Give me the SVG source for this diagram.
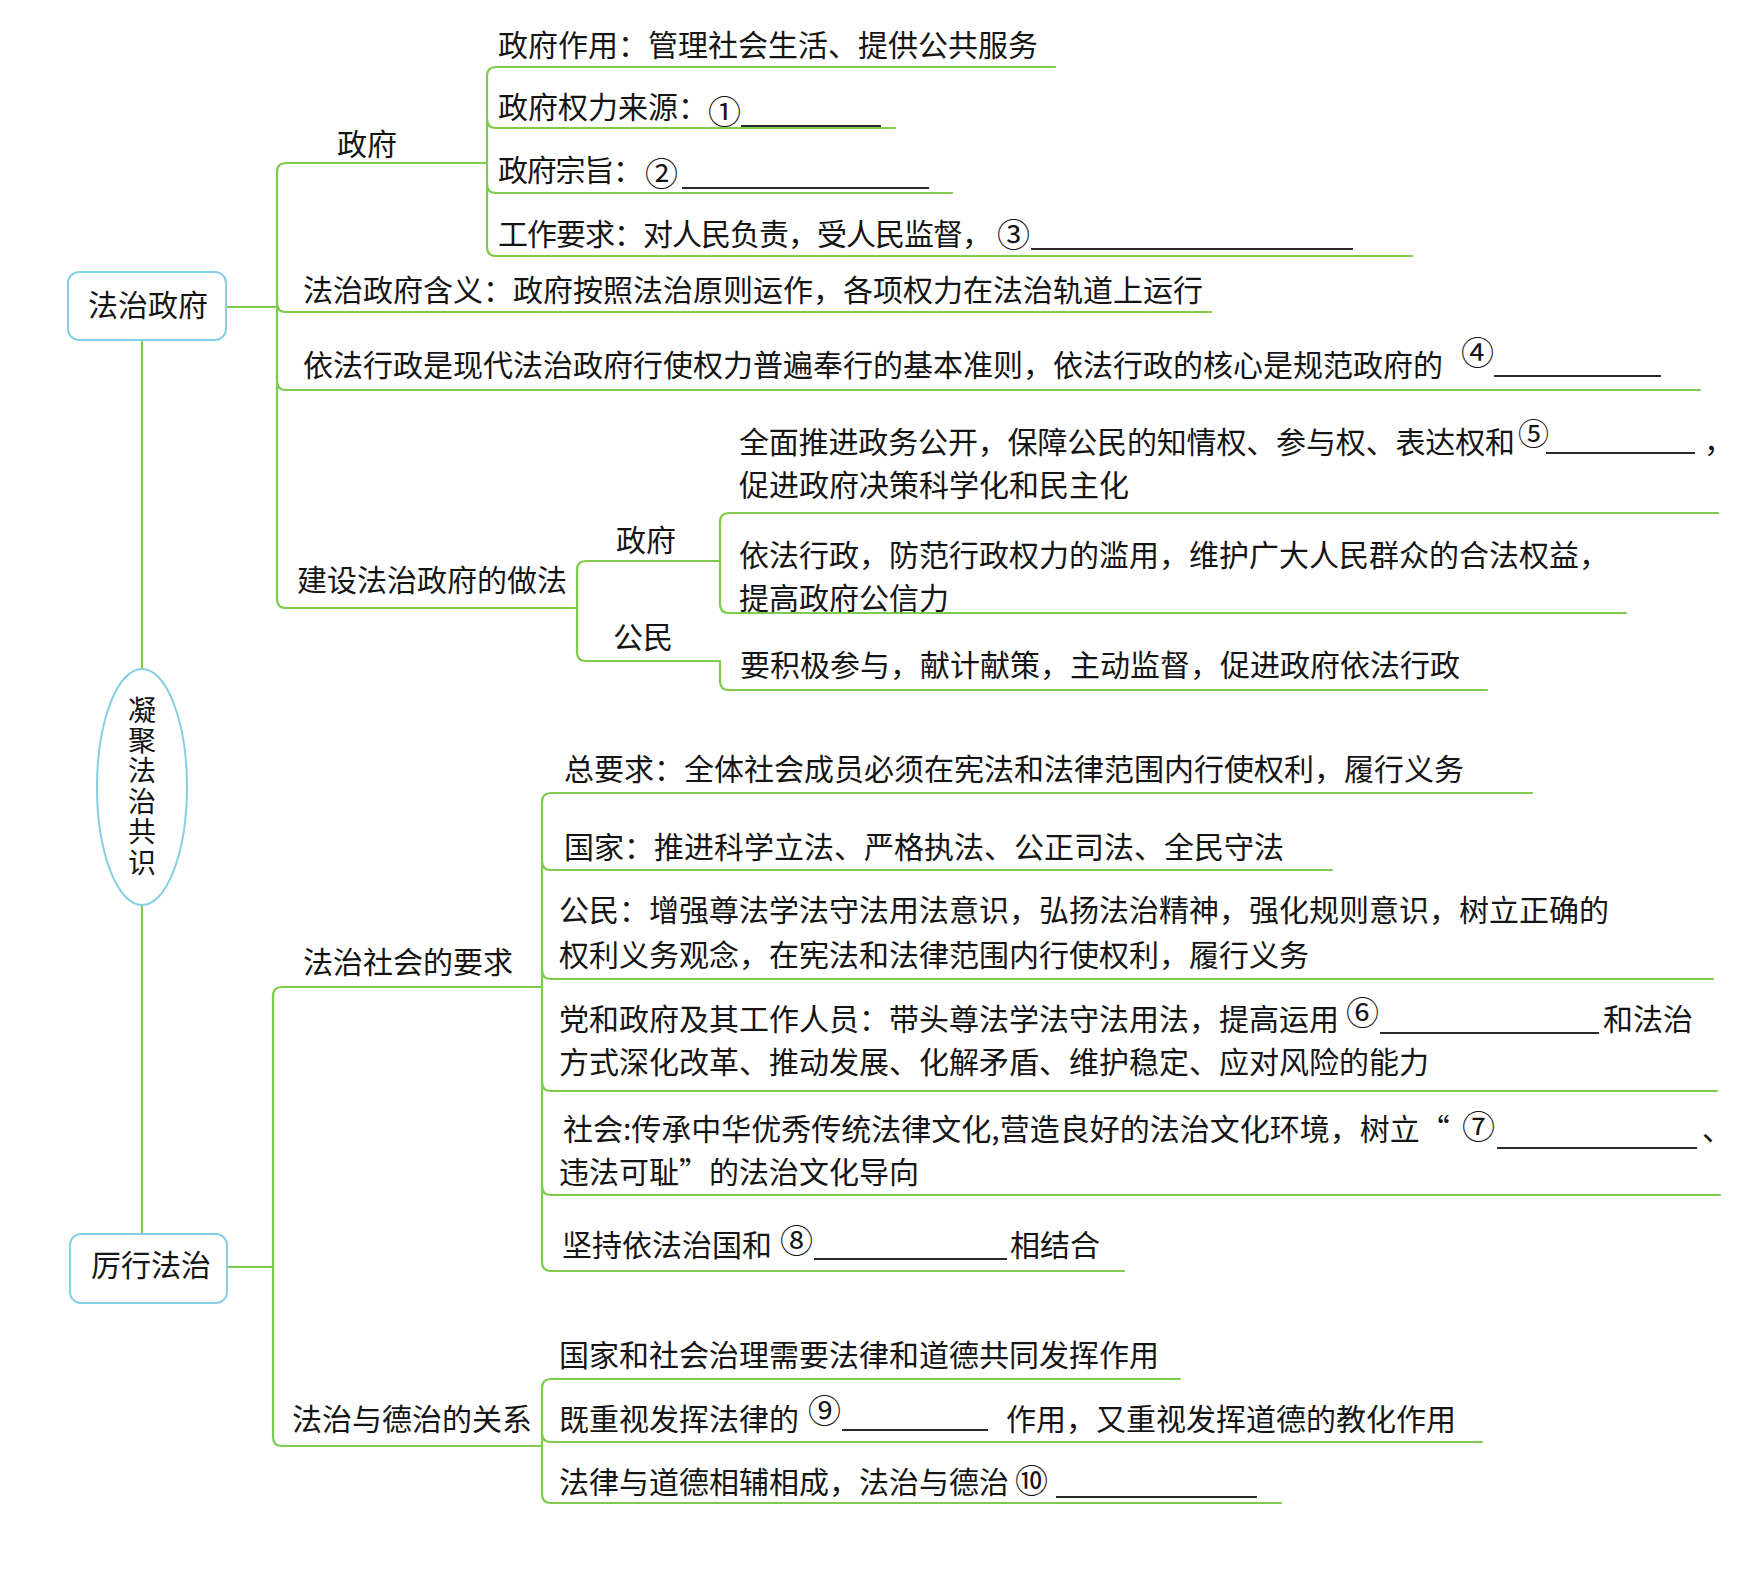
<svg xmlns="http://www.w3.org/2000/svg" width="1743" height="1590" viewBox="0 0 1743 1590">
<style>
  text { font-family: "Noto Sans CJK SC", "Noto Sans", sans-serif; font-size: 30px; fill: #151515; }
  .v { font-size: 28px; writing-mode: vertical-rl; letter-spacing: 2.4px; }
  .c { text-anchor: middle; }
  .n { font-size: 33px; }
  .ln { fill: none; stroke: #7dcc4e; stroke-width: 2.2; stroke-linecap: round; }
  .bl { stroke: #2a2a2a; stroke-width: 2; }
  .node { fill: #ffffff; stroke: #86d0e3; stroke-width: 2; }
</style>
<rect width="1743" height="1590" fill="#ffffff"/>

<g id="connectors">
  <path class="ln" d="M142 340 L142 669 M142 906 L142 1234"/>
  <!-- 法治政府 main trunk -->
  <path class="ln" d="M226 307 L277 307"/>
  <path class="ln" d="M277 172 Q277 163 286 163 L487 163 M277 172 L277 599"/>
  <path class="ln" d="M277 303 Q277 312 286 312 L1211 312"/>
  <path class="ln" d="M277 381 Q277 390 286 390 L1700 390"/>
  <path class="ln" d="M277 599 Q277 608 286 608 L577 608"/>
  <!-- 政府 sub trunk -->
  <path class="ln" d="M487 76 Q487 67 496 67 L1055 67 M487 76 L487 247"/>
  <path class="ln" d="M487 119 Q487 128 496 128 L895 128"/>
  <path class="ln" d="M487 184 Q487 193 496 193 L952 193"/>
  <path class="ln" d="M487 247 Q487 256 496 256 L1412 256"/>
  <!-- 建设法治政府的做法 sub trunk -->
  <path class="ln" d="M577 570 Q577 561 586 561 L720 561 M577 570 L577 652 Q577 661 586 661 L720 661"/>
  <path class="ln" d="M720 522 Q720 513 729 513 L1718 513 M720 522 L720 604 Q720 613 729 613 L1626 613"/>
  <path class="ln" d="M720 661 L720 681 Q720 690 729 690 L1487 690"/>
  <!-- 厉行法治 main trunk -->
  <path class="ln" d="M227 1267 L273 1267"/>
  <path class="ln" d="M273 996 Q273 987 282 987 L542 987 M273 996 L273 1437 Q273 1446 282 1446 L542 1446"/>
  <!-- 法治社会的要求 sub trunk -->
  <path class="ln" d="M542 802 Q542 793 551 793 L1532 793 M542 802 L542 1262"/>
  <path class="ln" d="M542 861 Q542 870 551 870 L1332 870"/>
  <path class="ln" d="M542 970 Q542 979 551 979 L1713 979"/>
  <path class="ln" d="M542 1082 Q542 1091 551 1091 L1717 1091"/>
  <path class="ln" d="M542 1186 Q542 1195 551 1195 L1720 1195"/>
  <path class="ln" d="M542 1262 Q542 1271 551 1271 L1124 1271"/>
  <!-- 法治与德治的关系 sub trunk -->
  <path class="ln" d="M542 1388 Q542 1379 551 1379 L1180 1379 M542 1388 L542 1494"/>
  <path class="ln" d="M542 1433 Q542 1442 551 1442 L1482 1442"/>
  <path class="ln" d="M542 1494 Q542 1503 551 1503 L1281 1503"/>
</g>

<g id="node-root">
  <ellipse class="node" cx="142" cy="787" rx="45" ry="118"/>
  <text class="v" x="142" y="696">凝聚法治共识</text>
</g>

<g id="node-fzzf">
  <rect class="node" x="68" y="272" width="158" height="68" rx="11"/>
  <text class="c" x="148" y="316">法治政府</text>
</g>

<g id="node-lxfz">
  <rect class="node" x="70" y="1234" width="157" height="69" rx="11"/>
  <text class="c" x="151" y="1276">厉行法治</text>
</g>

<g id="node-zf">
  <text x="337" y="155">政府</text>
</g>
<g id="node-zf-1"><text x="498" y="56">政府作用：管理社会生活、提供公共服务</text></g>
<g id="node-zf-2">
  <text x="498" y="118">政府权力来源：<tspan class="n" x="708" y="124">①</tspan></text>
  <line class="bl" x1="741" y1="126" x2="881" y2="126"/>
</g>
<g id="node-zf-3">
  <text x="498" y="181"><tspan textLength="145" lengthAdjust="spacing">政府宗旨：</tspan><tspan class="n" x="645" y="186">②</tspan></text>
  <line class="bl" x1="682" y1="188" x2="929" y2="188"/>
</g>
<g id="node-zf-4">
  <text x="498" y="245"><tspan textLength="494" lengthAdjust="spacing">工作要求：对人民负责，受人民监督，</tspan><tspan class="n" x="997" y="247">③</tspan></text>
  <line class="bl" x1="1031" y1="249" x2="1353" y2="249"/>
</g>
<g id="node-hanyi"><text x="303" y="301">法治政府含义：政府按照法治原则运作，各项权力在法治轨道上运行</text></g>
<g id="node-yfxz">
  <text x="303" y="376">依法行政是现代法治政府行使权力普遍奉行的基本准则，依法行政的核心是规范政府的<tspan class="n" x="1461" y="365">④</tspan></text>
  <line class="bl" x1="1494" y1="376" x2="1661" y2="376"/>
</g>
<g id="node-jianshe"><text x="297" y="591">建设法治政府的做法</text></g>
<g id="node-js-zf"><text x="616" y="551">政府</text></g>
<g id="node-js-gm"><text x="613" y="648">公民</text></g>
<g id="node-js-zf-1">
  <text x="739" y="453"><tspan textLength="776" lengthAdjust="spacing">全面推进政务公开，保障公民的知情权、参与权、表达权和</tspan><tspan x="1518" y="445" style="font-size:31px">⑤</tspan><tspan x="1704" y="452">，</tspan><tspan x="739" y="496">促进政府决策科学化和民主化</tspan></text>
  <line class="bl" x1="1546" y1="453" x2="1695" y2="453"/>
</g>
<g id="node-js-zf-2">
  <text x="739" y="566">依法行政，防范行政权力的滥用，维护广大人民群众的合法权益，<tspan x="739" y="609">提高政府公信力</tspan></text>
</g>
<g id="node-js-gm-1"><text x="740" y="676">要积极参与，献计献策，主动监督，促进政府依法行政</text></g>

<g id="node-fzsh"><text x="303" y="973">法治社会的要求</text></g>
<g id="node-sh-1"><text x="564" y="780">总要求：全体社会成员必须在宪法和法律范围内行使权利，履行义务</text></g>
<g id="node-sh-2"><text x="564" y="858">国家：推进科学立法、严格执法、公正司法、全民守法</text></g>
<g id="node-sh-3">
  <text x="559" y="921">公民：增强尊法学法守法用法意识，弘扬法治精神，强化规则意识，树立正确的<tspan x="559" y="966">权利义务观念，在宪法和法律范围内行使权利，履行义务</tspan></text>
</g>
<g id="node-sh-4">
  <text x="559" y="1030">党和政府及其工作人员：带头尊法学法守法用法，提高运用<tspan class="n" x="1346" y="1025">⑥</tspan><tspan x="1603" y="1030">和法治</tspan><tspan x="559" y="1073">方式深化改革、推动发展、化解矛盾、维护稳定、应对风险的能力</tspan></text>
  <line class="bl" x1="1380" y1="1033" x2="1599" y2="1033"/>
</g>
<g id="node-sh-5">
  <text x="563" y="1140">社会:传承中华优秀传统法律文化,营造良好的法治文化环境，树立“<tspan class="n" x="1462" y="1139">⑦</tspan><tspan x="1702" y="1140">、</tspan><tspan x="559" y="1183">违法可耻”的法治文化导向</tspan></text>
  <line class="bl" x1="1497" y1="1148" x2="1697" y2="1148"/>
</g>
<g id="node-sh-6">
  <text x="562" y="1256">坚持依法治国和<tspan class="n" x="780" y="1253">⑧</tspan><tspan x="1010" y="1256">相结合</tspan></text>
  <line class="bl" x1="814" y1="1259" x2="1007" y2="1259"/>
</g>

<g id="node-fzdz"><text x="292" y="1430">法治与德治的关系</text></g>
<g id="node-dz-1"><text x="559" y="1366">国家和社会治理需要法律和道德共同发挥作用</text></g>
<g id="node-dz-2">
  <text x="559" y="1430">既重视发挥法律的<tspan class="n" x="808" y="1423">⑨</tspan><tspan x="1006" y="1430">作用，又重视发挥道德的教化作用</tspan></text>
  <line class="bl" x1="842" y1="1430" x2="988" y2="1430"/>
</g>
<g id="node-dz-3">
  <text x="559" y="1493">法律与道德相辅相成，法治与德治<tspan class="n" x="1015" y="1493">⑩</tspan></text>
  <line class="bl" x1="1056" y1="1497" x2="1257" y2="1497"/>
</g>
</svg>
